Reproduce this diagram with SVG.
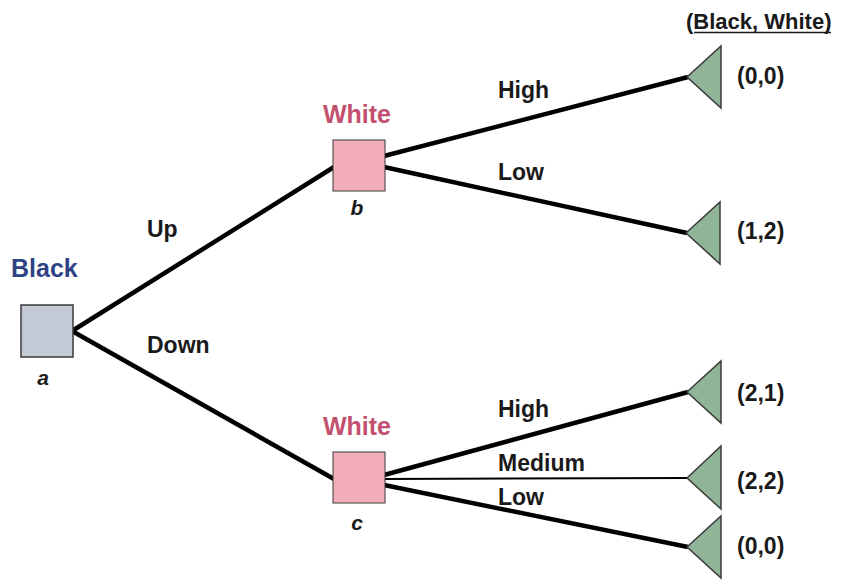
<svg xmlns="http://www.w3.org/2000/svg" width="842" height="580" viewBox="0 0 842 580">
  <style>
    text { font-family: "Liberation Sans", Arial, sans-serif; font-weight: bold; fill: #1a1a1a; }
    .player-black { font-size: 25px; fill: #2d4384; }
    .player-white { font-size: 25px; fill: #c24f6d; text-anchor: middle; }
    .node-id { font-size: 21px; font-style: italic; text-anchor: middle; }
    .move { font-size: 23px; }
    .payoff { font-size: 23px; }
    .header { font-size: 22px; }
    .edge { stroke: #000; stroke-width: 4.5; stroke-linecap: butt; fill: none; }
    .edge-thin { stroke: #000; stroke-width: 2; fill: none; }
    .sq-black { fill: #c3cad6; stroke: #3a3a3a; stroke-width: 1.5; }
    .sq-white { fill: #f1adba; stroke: #3a3a3a; stroke-width: 1; }
    .leaf { fill: #8fb497; stroke: #3a3a3a; stroke-width: 1.5; stroke-linejoin: miter; }
  </style>

  <!-- header for payoff column -->
  <g id="payoff-header">
    <text class="header" x="686" y="29">(Black, White)</text>
    <line x1="694" y1="32.5" x2="831" y2="32.5" stroke="#1a1a1a" stroke-width="1.5"/>
  </g>

  <!-- connectors (tree branches) -->
  <g id="connectors">
    <line class="edge" x1="72" y1="331" x2="334" y2="167"/>
    <line class="edge" x1="72" y1="331" x2="334" y2="479"/>
    <line class="edge" x1="384" y1="156" x2="688" y2="77"/>
    <line class="edge" x1="384" y1="167" x2="687" y2="233"/>
    <line class="edge" x1="384" y1="475" x2="688" y2="392"/>
    <line class="edge-thin" x1="384" y1="479" x2="688" y2="478"/>
    <line class="edge" x1="384" y1="485" x2="688" y2="547"/>
  </g>

  <!-- move labels -->
  <g id="move-labels">
    <text class="move" x="147" y="237">Up</text>
    <text class="move" x="147" y="353">Down</text>
    <text class="move" x="498" y="98">High</text>
    <text class="move" x="498" y="180">Low</text>
    <text class="move" x="498" y="417">High</text>
    <text class="move" x="498" y="471">Medium</text>
    <text class="move" x="498" y="505">Low</text>
  </g>

  <!-- decision node a (Black) -->
  <g id="node-a">
    <text class="player-black" x="11" y="277">Black</text>
    <rect class="sq-black" x="21" y="305" width="52" height="52"/>
    <text class="node-id" x="43" y="385">a</text>
  </g>

  <!-- decision node b (White) -->
  <g id="node-b">
    <text class="player-white" x="357" y="123">White</text>
    <rect class="sq-white" x="333" y="140" width="52" height="51"/>
    <text class="node-id" x="357" y="215">b</text>
  </g>

  <!-- decision node c (White) -->
  <g id="node-c">
    <text class="player-white" x="357" y="435">White</text>
    <rect class="sq-white" x="333" y="452" width="52" height="51"/>
    <text class="node-id" x="357" y="530">c</text>
  </g>

  <!-- terminal nodes with payoffs -->
  <g id="leaf-b-high">
    <polygon class="leaf" points="687,77 721,46 721,108"/>
    <text class="payoff" x="737" y="84">(0,0)</text>
  </g>
  <g id="leaf-b-low">
    <polygon class="leaf" points="686,233 720,202 720,264"/>
    <text class="payoff" x="737" y="239">(1,2)</text>
  </g>
  <g id="leaf-c-high">
    <polygon class="leaf" points="687,392 721,361 721,423"/>
    <text class="payoff" x="737" y="401">(2,1)</text>
  </g>
  <g id="leaf-c-medium">
    <polygon class="leaf" points="687,478 721,446 721,509"/>
    <text class="payoff" x="737" y="489">(2,2)</text>
  </g>
  <g id="leaf-c-low">
    <polygon class="leaf" points="687,547 721,516 721,578"/>
    <text class="payoff" x="737" y="554">(0,0)</text>
  </g>
</svg>
